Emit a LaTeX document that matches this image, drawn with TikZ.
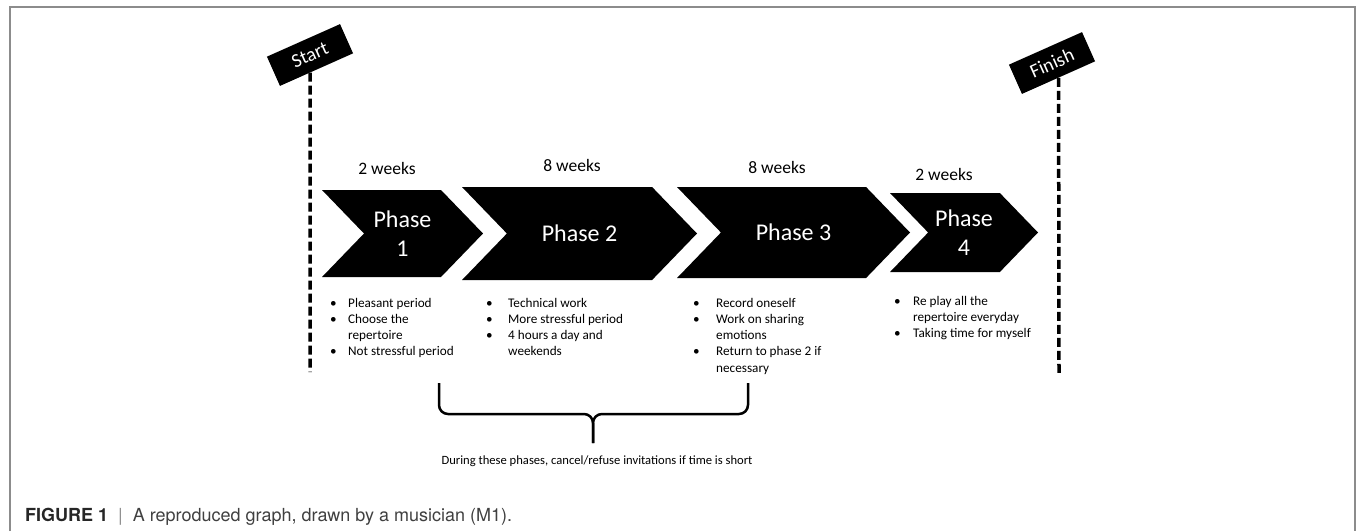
\documentclass[tikz,border=0pt]{standalone}
\usepackage{fontspec}
\setmainfont{Carlito}
\newfontfamily\capfont{TeX Gyre Heros}
\usetikzlibrary{shapes.symbols}

\definecolor{capdark}{gray}{0.15}
\definecolor{captext}{gray}{0.25}
\definecolor{framegray}{gray}{0.55}

\newcommand{\notelist}[2]{\begin{tabular}[t]{@{}p{#1}@{}l@{}}#2\end{tabular}}

\tikzset{
  phase/.style={shape=signal, signal from=west, signal to=east, signal pointer angle=92,
    fill=black, text=white, inner sep=0pt, align=center, font=\fontsize{24}{29}\selectfont},
  weeks/.style={inner sep=0pt, font=\fontsize{17.5}{20}\selectfont},
  sign/.style={fill=black, text=white, minimum width=80pt, minimum height=32pt,
    inner sep=0pt, rotate=24, font=\fontsize{19.5}{22}\selectfont},
  pole/.style={line width=3.5pt, dash pattern=on 9pt off 4pt},
  notes/.style={inner sep=0pt, anchor=base west, font=\fontsize{13.2}{16.3}\selectfont},
  brace/.style={line width=2.5pt, rounded corners=9pt},
  frame/.style={draw=framegray, line width=1.5pt},
}

\begin{document}
\begin{tikzpicture}[x=1pt, y=-1pt]
        \useasboundingbox (0, 0) rectangle (1357, 531);
        \draw [frame] (10, 531) -- (10, 7) -- (1355, 7) -- (1355, 531);

        % start and finish signs
        \node [sign] at (310, 55) (start) {Start};
        \coordinate (startbot) at (310, 372);
        \draw [pole] (start) -- (startbot);

        \node [sign] at (1052, 63) (finish) {Finish};
        \coordinate (finishbot) at (1059, 375);
        \draw [pole] (finish.south) -- (finishbot);

        % phases
        \node [phase, minimum width=161pt, minimum height=87pt] at (402.5, 233.5) (p1) {Phase\\1};
        \node [phase, minimum width=235pt, minimum height=93pt] at (579.5, 233.5) (p2) {Phase 2};
        \node [phase, minimum width=233pt, minimum height=91pt] at (793.5, 232.5) (p3) {Phase 3};
        \node [phase, minimum width=148pt, minimum height=79pt] at (964, 232.5) (p4) {Phase\\4};

        \node [weeks] at (387, 168) (w1) {2 weeks};
        \node [weeks] at (572, 165) (w2) {8 weeks};
        \node [weeks] at (777, 167) (w3) {8 weeks};
        \node [weeks] at (944, 174) (w4) {2 weeks};

        % what happens in each phase
        \node [notes] at (330, 307) (n1) {\notelist{18pt}{
          \textbullet & Pleasant period\\
          \textbullet & Choose the\\
                      & repertoire\\
          \textbullet & Not stressful period}};
        \node [notes] at (486, 307) (n2) {\notelist{22pt}{
          \textbullet & Technical work\\
          \textbullet & More stressful period\\
          \textbullet & 4 hours a day and\\
                      & weekends}};
        \node [notes] at (693, 307) (n3) {\notelist{23pt}{
          \textbullet & Record oneself\\
          \textbullet & Work on sharing\\
                      & emotions\\
          \textbullet & Return to phase 2 if\\
                      & necessary}};
        \node [notes] at (894, 305) (n4) {\notelist{19pt}{
          \textbullet & Re play all the\\
                      & repertoire everyday\\
          \textbullet & Taking time for myself}};

        % brace under phases 2 and 3
        \coordinate (bl) at (439, 383);
        \coordinate (br) at (748, 383);
        \coordinate (bmid) at (593, 414);
        \coordinate (bm) at (593, 443);
        \draw [brace] (bl) -- (bl |- bmid) -- (bmid) -- (bm);
        \draw [brace] (br) -- (br |- bmid) -- (bmid) -- (bm);
        \node [inner sep=0pt, font=\fontsize{12.6}{15}\selectfont] at (597, 461) (bnote)
          {During these phases, cancel/refuse invitations if time is short};

        % caption
        \node [anchor=base west, inner sep=0pt, text=captext, font=\capfont\fontsize{18}{21}\selectfont] at (25, 521) (cap)
          {\textcolor{capdark}{\bfseries FIGURE 1}\hspace{10pt}\textcolor{framegray}{|}\hspace{10pt}A reproduced graph, drawn by a musician (M1).};
\end{tikzpicture}
\end{document}
